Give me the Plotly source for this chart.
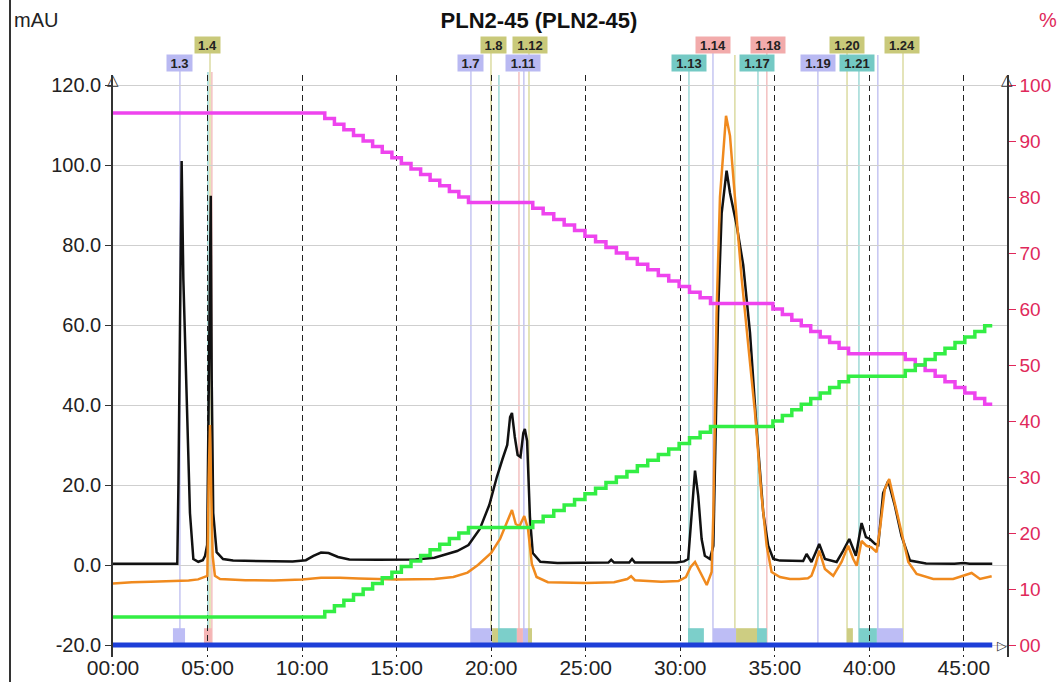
import plotly.graph_objects as go

# ---------------- data ----------------
black_t = [0.0, 1.0, 2.0, 3.0, 3.40, 3.46, 3.55, 3.63, 3.72, 3.90, 4.07, 4.25, 4.51, 4.75, 4.87, 4.98,
           5.05, 5.12, 5.17, 5.22, 5.30, 5.48, 5.82, 6.35, 8.0, 9.5, 10.2, 10.6, 11.0, 11.4, 11.9,
           12.5, 14.0, 16.0, 17.0, 17.6, 18.2, 18.8, 19.4, 19.9, 20.3, 20.6, 20.85, 21.0, 21.1,
           21.25, 21.4, 21.55, 21.7, 21.78, 21.9, 22.05, 22.2, 22.6, 23.5, 26.2, 26.35, 26.5, 27.3,
           27.45, 27.6, 29.8, 30.2, 30.42, 30.6, 30.78, 30.95, 31.13, 31.3, 31.57, 31.75, 32.0,
           32.19, 32.45, 32.63, 32.98, 33.33, 33.69, 34.04, 34.39, 34.65, 34.92, 35.27, 36.5,
           36.68, 36.94, 37.15, 37.35, 37.65, 38.27, 38.62, 38.94, 39.29, 39.59, 39.82, 40.03,
           40.30, 40.47, 40.73, 41.0, 41.35, 41.7, 42.15, 43.0, 44.5, 45.0, 45.3, 46.5]
black_v = [0.3, 0.3, 0.3, 0.3, 0.3, 20, 75, 101, 71.5, 38, 13, 1.5, 0.8, 1.2, 2.3, 5,
           40, 85, 92.3, 46.5, 13, 3.2, 1.5, 1.1, 0.9, 0.9, 1.2, 2.3, 3.1, 3.0, 2.0,
           1.4, 1.3, 1.4, 1.8, 2.6, 3.5, 5, 9, 15, 22, 26.5, 30, 37, 38,
           32, 27.5, 27, 33, 34, 31, 12, 3, 0.8, 0.5, 0.6, 1.3, 0.6, 0.6,
           1.5, 0.6, 0.6, 0.9, 1.5, 12, 23.6, 17.3, 6.5, 2.3, 1.5, 4.8, 63,
           88, 98.6, 93, 85, 75, 58, 34, 13, 4.8, 1.5, 1.1, 1.0,
           2.75, 0.75, 3, 5.25, 1.5, 0.75, 3.6, 6.5, 2.3, 10.5, 7, 6.5,
           5.25, 5, 18, 21, 14.8, 7.3, 1.1, 0.4, 0.3, 0.5, 0.3, 0.3]

orange_t = [0.0, 1.0, 2.0, 3.0, 3.5, 4.0, 4.5, 4.99, 5.06, 5.13, 5.2, 5.27, 5.39, 5.66, 7.0, 8.5,
            10.0, 11.0, 12.0, 13.0, 15.0, 17.0, 18.0, 18.75, 19.3, 19.65, 20.0, 20.47, 20.9, 21.1,
            21.3, 21.5, 21.75, 21.95, 22.15, 22.4, 23.0, 25.0, 26.5, 27.2, 27.4, 27.6, 29.0, 29.9,
            30.3, 30.55, 30.78, 31.04, 31.4, 31.66, 31.75, 31.92, 32.1, 32.42, 32.63, 32.89, 33.25,
            33.6, 33.95, 34.3, 34.57, 34.83, 35.27, 35.8, 36.3, 36.75, 36.94, 37.15, 37.35, 37.65,
            38.09, 38.53, 38.88, 39.15, 39.33, 39.59, 39.85, 40.11, 40.38, 40.56, 40.82, 41.05,
            41.35, 41.7, 42.06, 42.5, 43.38, 44.43, 44.96, 45.41, 45.85, 46.47]
orange_v = [-4.6, -4.3, -4.2, -4.0, -3.9, -3.9, -3.6, -2.7, 21.5, 35, 17.3, 2.3, -2.7, -3.5, -3.8, -3.9,
            -3.6, -3.2, -3.2, -3.4, -3.6, -3.5, -3.0, -1.9, 0, 1.5, 3, 6.5, 11.5, 13.75,
            10.25, 9.75, 12.25, 9, 0.25, -3, -4.3, -4.5, -4.3, -3.5, -2.8, -3.8, -4.2, -4.0,
            -3.0, -0.5, 0.75, -1.75, -5.0, -1.75, 13, 63, 92, 112.3, 107.3, 92, 71.5,
            54.8, 38.2, 17.3, 4.8, -1.75, -3.0, -3.5, -3.5, -3.3, -2.7, 0, 3.6, -1,
            -2.7, 0.75, 4.8, 1.5, -0.2, 6, 4.8, 4.4, 3.2, 9, 19, 21.5,
            15.7, 8.2, 0.75, -2.25, -3.5, -3.5, -2.7, -2.0, -3.5, -2.8]

grad_t = [0, 11.2, 11.71, 12.21, 12.72, 13.23, 13.73, 14.24, 14.75, 15.25, 15.76, 16.27, 16.77,
          17.28, 17.79, 18.29, 18.8,
          22.2, 22.75, 23.31, 23.86, 24.41, 24.96, 25.52, 26.07, 26.62, 27.18, 27.73, 28.28,
          28.84, 29.39, 29.94, 30.49, 31.05, 31.6,
          34.9, 35.4, 35.9, 36.4, 36.9, 37.4, 37.9, 38.4, 38.9,
          41.9, 42.43, 42.95, 43.48, 44.0, 44.53, 45.05, 45.58, 46.1, 46.5]
green_pct = [5, 6, 7, 8, 9, 10, 11, 12, 13, 14, 15, 16, 17, 18, 19, 20, 21,
             22, 23, 24, 25, 26, 27, 28, 29, 30, 31, 32, 33, 34, 35, 36, 37, 38, 39,
             40, 41, 42, 43, 44, 45, 46, 47, 48,
             49, 50, 51, 52, 53, 54, 55, 56, 57, 57]
pink_pct = [95, 94, 93, 92, 91, 90, 89, 88, 87, 86, 85, 84, 83, 82, 81, 80, 79,
            78, 77, 76, 75, 74, 73, 72, 71, 70, 69, 68, 67, 66, 65, 64, 63, 62, 61,
            60, 59, 58, 57, 56, 55, 54, 53, 52,
            51, 50, 49, 48, 47, 46, 45, 44, 43, 43]

base_t = [0, 46.5]
base_v = [-20, -20]

x_ticks = [0, 5, 10, 15, 20, 25, 30, 35, 40, 45]
x_labels = ["00:00", "05:00", "10:00", "15:00", "20:00", "25:00", "30:00", "35:00", "40:00", "45:00"]
y_ticks = [-20, 0, 20, 40, 60, 80, 100, 120]
y_labels = ["-20.0", "0.0", "20.0", "40.0", "60.0", "80.0", "100.0", "120.0"]
y2_ticks = [0, 10, 20, 30, 40, 50, 60, 70, 80, 90, 100]
y2_labels = ["00", "10", "20", "30", "40", "50", "60", "70", "80", "90", "100"]

# fraction marks
line_t = [3.54, 5.02, 5.13, 5.23, 18.93, 19.99, 20.41, 21.47, 21.73, 22.0, 30.46, 31.73, 32.89,
          34.11, 34.58, 37.28, 38.82, 39.45, 40.45, 41.78]
line_c = ["lav", "teal", "olive", "pink", "lav", "olive", "teal", "pink", "lav", "olive", "teal",
          "lav", "olive", "teal", "pink", "lav", "olive", "teal", "lav", "olive"]
line_top = [71, 72, 53, 72, 71, 53, 75, 72, 71, 53, 71, 53, 55, 71, 53, 71, 53, 71, 55, 53]

label_text = ["1.3", "1.4", "1.7", "1.8", "1.11", "1.12", "1.13", "1.14", "1.17", "1.18",
              "1.19", "1.20", "1.21", "1.24"]
label_t = [3.54, 5.02, 18.93, 20.1, 21.68, 22.03, 30.46, 31.73, 34.06, 34.64, 37.28, 38.82,
           39.37, 41.72]
label_row = [2, 1, 2, 1, 2, 1, 2, 1, 2, 1, 2, 1, 2, 1]
label_c = ["lav", "olive", "lav", "olive", "lav", "olive", "teal", "pink", "teal", "pink",
           "lav", "olive", "teal", "olive"]

block_t0 = [3.17, 4.81, 18.93, 20.05, 20.36, 21.36, 21.68, 21.95, 30.41, 31.73, 32.95, 34.06,
            38.82, 39.45, 40.40]
block_t1 = [3.81, 5.23, 20.05, 20.36, 21.36, 21.68, 21.95, 22.16, 31.25, 32.95, 34.06, 34.58,
            39.13, 40.40, 41.78]
block_c = ["lav", "pink", "lav", "olive", "teal", "pink", "lav", "olive", "teal", "lav", "olive",
           "teal", "olive", "teal", "lav"]

# ---------------- styling ----------------
FILL = {"lav": "#bdbdf5", "olive": "#cdcd82", "teal": "#7ccfca", "pink": "#f5b5b5"}
LINE = {"lav": "#b6b6ee", "olive": "#d2d28a", "teal": "#86cfcb", "pink": "#f0b0b0"}
BOX = {"lav": "#b9b9f2", "olive": "#c9c97a", "teal": "#74c9c4", "pink": "#f2abab"}
CRIMSON = "#e0285a"
FONT = "Liberation Sans, Arial, Helvetica, sans-serif"

W, H = 1063, 682
ML, MR, MT, MB = 113, 56, 75, 25
PW, PH = W - ML - MR, H - MT - MB


def py(pix):  # pixel y -> paper y
    return (H - MB - pix) / PH


def px(pix):  # pixel x -> paper x
    return (pix - ML) / PW


fig = go.Figure()
fig.add_trace(go.Scatter(x=grad_t, y=pink_pct, yaxis="y2", mode="lines", line_shape="hv",
                         line=dict(color="#ee44ee", width=3.5), hoverinfo="skip"))
fig.add_trace(go.Scatter(x=grad_t, y=green_pct, yaxis="y2", mode="lines", line_shape="hv",
                         line=dict(color="#33ee44", width=3.5), hoverinfo="skip"))
fig.add_trace(go.Scatter(x=base_t, y=base_v, mode="lines",
                         line=dict(color="#1d3fd8", width=5), hoverinfo="skip"))
fig.add_trace(go.Scatter(x=black_t, y=black_v, mode="lines",
                         line=dict(color="#111111", width=2.5), hoverinfo="skip"))
fig.add_trace(go.Scatter(x=orange_t, y=orange_v, mode="lines",
                         line=dict(color="#f08a1e", width=2.5), hoverinfo="skip"))

shapes = []
for t0, t1, c in zip(block_t0, block_t1, block_c):
    shapes.append(dict(type="rect", xref="x", yref="y", x0=t0, x1=t1, y0=-20, y1=-15.8,
                       fillcolor=FILL[c], line=dict(width=0), layer="below"))
for t, c, top in zip(line_t, line_c, line_top):
    shapes.append(dict(type="line", xref="x", yref="paper", x0=t, x1=t, y0=py(645), y1=py(top),
                       line=dict(color=LINE[c], width=1.2), layer="below"))
# left border line
shapes.append(dict(type="line", xref="paper", yref="paper", x0=px(10), x1=px(10), y0=py(682),
                   y1=py(0), line=dict(color="#333333", width=2)))

annotations = []
for txt, t, row, c in zip(label_text, label_t, label_row, label_c):
    annotations.append(dict(x=t, xref="x", y=py(45 if row == 1 else 63), yref="paper",
                            text="<b>%s</b>" % txt, showarrow=False, xanchor="center",
                            yanchor="middle", bgcolor=BOX[c], width=int(8.5 * len(txt)), height=16,
                            borderpad=0, font=dict(family=FONT, size=13, color="#222222")))
annotations += [
    dict(x=px(12), y=py(20), xref="paper", yref="paper", text="mAU", showarrow=False,
         xanchor="left", yanchor="middle", font=dict(family=FONT, size=20, color="#222222")),
    dict(x=px(1048), y=py(20), xref="paper", yref="paper", text="%", showarrow=False,
         xanchor="center", yanchor="middle", font=dict(family=FONT, size=20, color=CRIMSON)),
    dict(x=0, y=py(80), xref="paper", yref="paper", text="△", showarrow=False,
         xanchor="center", yanchor="middle", font=dict(family=FONT, size=15, color="#333333")),
    dict(x=1, y=py(80), xref="paper", yref="paper", text="△", showarrow=False,
         xanchor="center", yanchor="middle", font=dict(family=FONT, size=15, color="#333333")),
    dict(x=px(1002), y=py(645), xref="paper", yref="paper", text="▷", showarrow=False,
         xanchor="center", yanchor="middle", font=dict(family=FONT, size=13, color="#333333")),
]

fig.update_layout(
    width=W, height=H, autosize=False,
    margin=dict(l=ML, r=MR, t=MT, b=MB, autoexpand=False),
    paper_bgcolor="white", plot_bgcolor="white",
    showlegend=False,
    title=dict(text="<b>PLN2-45 (PLN2-45)</b>", x=px(539), y=1 - 20 / H, xref="paper",
               xanchor="center", yanchor="middle",
               font=dict(family=FONT, size=22, color="#111111")),
    xaxis=dict(range=[0, 47.28], tickvals=x_ticks, ticktext=x_labels, showgrid=True,
               automargin=False, ticklabelstandoff=-4,
               gridcolor="#222222", griddash="6px,4px", gridwidth=1.3, zeroline=False,
               showline=False, ticks="", tickfont=dict(family=FONT, size=21, color="#222222")),
    yaxis=dict(range=[-23, 122.5], tickvals=y_ticks, ticktext=y_labels, showgrid=True,
               automargin=False,
               gridcolor="#cfcfcf", gridwidth=1, zeroline=False, showline=True,
               linecolor="#333333", linewidth=1.5, ticks="outside", ticklen=6,
               tickcolor="#333333", tickfont=dict(family=FONT, size=20, color="#222222")),
    yaxis2=dict(overlaying="y", side="right", range=[-2.143, 101.786], tickvals=y2_ticks,
                automargin=False,
                ticktext=y2_labels, showgrid=False, zeroline=False, showline=True,
                linecolor="#333333", linewidth=1.5, ticks="outside", ticklen=7,
                tickcolor=CRIMSON, tickfont=dict(family=FONT, size=19, color=CRIMSON)),
    shapes=shapes,
    annotations=annotations,
)

fig.write_html("out.html")
